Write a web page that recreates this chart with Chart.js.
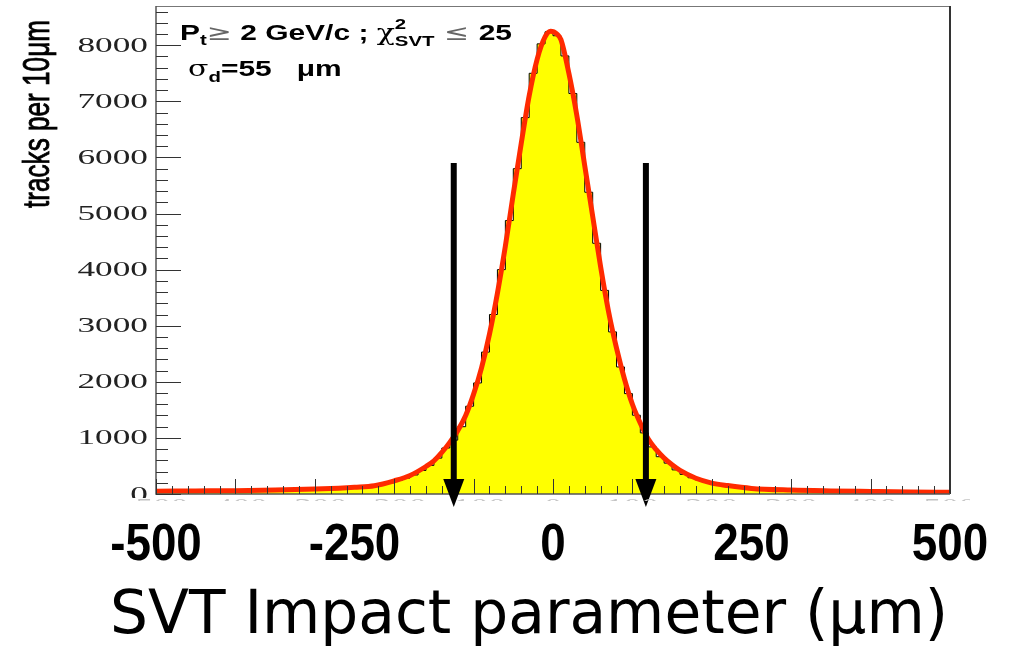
<!DOCTYPE html>
<html>
<head>
<meta charset="utf-8">
<title>SVT impact parameter</title>
<script src="https://cdn.jsdelivr.net/npm/chart.js@4.4.1/dist/chart.umd.min.js"></script>
<style>
  html, body { margin: 0; padding: 0; background: #fff; }
  #wrap { position: relative; width: 1014px; height: 652px; }
</style>
</head>
<body>
<div id="wrap"><canvas id="chart"></canvas></div>
<script>
// tracks per 10 um bin, bins from -500 to +500 um (left edge order)
const binWidth = 10;
const xRange = [-500, 500];
const binCounts = [
  50, 51, 52, 53, 54, 55, 56, 57, 58, 59,
  60, 62, 64, 66, 68, 71, 74, 77, 80, 84,
  88, 92, 98, 105, 112, 120, 132, 148, 170, 200,
  240, 285, 340, 420, 510, 640, 820, 960, 1200, 1565,
  1980, 2530, 3200, 4000, 4875, 5800, 6710, 7500, 8025, 8240,
  8170, 7810, 7140, 6270, 5380, 4470, 3630, 2890, 2265, 1790,
  1405, 1090, 840, 665, 550, 430, 350, 290, 245, 210,
  180, 155, 135, 118, 98, 88, 82, 77, 73, 69,
  65, 62, 60, 58, 55, 53, 51, 49, 47, 45,
  43, 41, 39, 37, 35, 33, 32, 31, 30, 29
];

// fitted resolution curve (red)
const fitX = [-500, -450, -400, -350, -300, -270, -250, -225, -200, -180, -160, -150, -140, -130,
  -120, -110, -100, -90, -80, -70, -60, -50, -40, -30, -20, -10, -3, 5, 10, 20, 30, 40, 50,
  60, 70, 80, 90, 100, 110, 120, 130, 140, 150, 160, 180, 200, 220, 250, 300, 350, 400, 450, 500];
const fitY = [50, 55, 60, 71, 88, 104, 120, 148, 235, 330, 490, 590, 740, 920,
  1130, 1400, 1780, 2250, 2850, 3580, 4420, 5350, 6250, 7100, 7750, 8150, 8250, 8200, 8100, 7500, 6750, 5850, 4950,
  4050, 3250, 2600, 2050, 1600, 1260, 980, 790, 640, 520, 420, 280, 195, 150, 100, 70, 55, 45, 36, 30];

const yMax = 8700;
const yTicks = [0, 1000, 2000, 3000, 4000, 5000, 6000, 7000, 8000];
const xTicks = [-500, -400, -300, -200, -100, 0, 100, 200, 300, 400, 500];
const xBigLabels = [-500, -250, 0, 250, 500];
const cutArrows = [-125, 117];
const arrowTop = 5900;
const arrowTip = -230;

const histPoints = binCounts.map((c, i) => ({ x: xRange[0] + i * binWidth, y: c }));
histPoints.push({ x: xRange[1], y: binCounts[binCounts.length - 1] });
const fitPoints = fitX.map((x, i) => ({ x: x, y: fitY[i] }));

// text squeezed/stretched along x
function stretchText(ctx, text, x, y, sx, align) {
  ctx.save();
  ctx.translate(x, y);
  ctx.scale(sx, 1);
  ctx.textAlign = align;
  ctx.fillText(text, 0, 0);
  ctx.restore();
}

// runs: [text, font, dy, colour, keepX]
function runsWidth(ctx, runs) {
  let w = 0;
  runs.forEach(r => { ctx.font = r[1]; if (!r[4]) w += ctx.measureText(r[0]).width; });
  return w;
}
function drawRuns(ctx, x, y, runs, sx) {
  let cx = 0;
  ctx.save();
  ctx.translate(x, y);
  ctx.scale(sx, 1);
  ctx.textAlign = 'left';
  ctx.textBaseline = 'alphabetic';
  runs.forEach(r => {
    ctx.font = r[1];
    ctx.fillStyle = r[3] || '#000';
    ctx.fillText(r[0], cx, r[2]);
    if (!r[4]) cx += ctx.measureText(r[0]).width;
  });
  ctx.restore();
}

const rootAxes = {
  id: 'rootAxes',
  afterDatasetsDraw(chart) {
    const ctx = chart.ctx;
    const area = chart.chartArea;
    const xs = chart.scales.x, ys = chart.scales.y;
    ctx.save();

    // frame
    ctx.lineWidth = 1;
    ctx.strokeStyle = '#777';
    ctx.beginPath(); ctx.moveTo(area.left, area.top + 0.5); ctx.lineTo(area.right, area.top + 0.5); ctx.stroke();
    ctx.strokeStyle = '#333';
    ctx.lineWidth = 2;
    ctx.beginPath(); ctx.moveTo(area.right, area.top); ctx.lineTo(area.right, area.bottom); ctx.stroke();
    ctx.strokeStyle = '#555';
    ctx.lineWidth = 1.5;
    ctx.beginPath();
    ctx.moveTo(area.left, area.top); ctx.lineTo(area.left, area.bottom); ctx.lineTo(area.right, area.bottom);
    ctx.stroke();

    // y ticks, pointing inwards, 5 divisions per label
    ctx.strokeStyle = '#333';
    ctx.lineWidth = 1;
    ctx.beginPath();
    const yStep = yTicks[1] - yTicks[0];
    for (let v = 0; v <= yMax; v += yStep / 5) {
      const py = Math.round(ys.getPixelForValue(v)) + 0.5;
      const len = (v % yStep === 0) ? 25 : 12;
      ctx.moveTo(area.left, py); ctx.lineTo(area.left + len, py);
    }
    // x ticks
    const xStep = xTicks[1] - xTicks[0];
    for (let v = xRange[0]; v <= xRange[1]; v += xStep / 5) {
      const px = Math.round(xs.getPixelForValue(v)) + 0.5;
      const len = (v % xStep === 0) ? 15 : 8;
      ctx.moveTo(px, area.bottom); ctx.lineTo(px, area.bottom - len);
    }
    ctx.stroke();

    // cut arrows
    ctx.fillStyle = '#000';
    ctx.strokeStyle = '#000';
    cutArrows.forEach(v => {
      const px = xs.getPixelForValue(v);
      const top = ys.getPixelForValue(arrowTop);
      const tip = ys.getPixelForValue(arrowTip);
      ctx.lineWidth = 6;
      ctx.beginPath(); ctx.moveTo(px, top); ctx.lineTo(px, tip - 20); ctx.stroke();
      ctx.beginPath();
      ctx.moveTo(px - 10.5, tip - 28); ctx.lineTo(px + 10.5, tip - 28); ctx.lineTo(px, tip);
      ctx.closePath(); ctx.fill();
    });
    ctx.restore();
  },
  afterDraw(chart) {
    const ctx = chart.ctx;
    const area = chart.chartArea;
    const xs = chart.scales.x, ys = chart.scales.y;
    ctx.save();

    // y tick labels (bottom one is cut by the axis-label box)
    ctx.save();
    ctx.beginPath(); ctx.rect(0, 0, area.left, area.bottom + 4); ctx.clip();
    ctx.fillStyle = '#222';
    ctx.font = '21px "Liberation Serif"';
    ctx.textBaseline = 'middle';
    yTicks.forEach(v => stretchText(ctx, String(v), area.left - 8, ys.getPixelForValue(v) + 1, 1.68, 'right'));
    ctx.restore();

    // original small x labels, almost fully covered
    ctx.save();
    ctx.beginPath(); ctx.rect(area.left - 20, area.bottom + 4, area.right - area.left + 40, 3); ctx.clip();
    ctx.fillStyle = '#c4c4c4';
    ctx.font = '21px "Liberation Serif"';
    ctx.textBaseline = 'top';
    xTicks.forEach(v => stretchText(ctx, String(v), xs.getPixelForValue(v), area.bottom + 3, 1.68, 'center'));
    ctx.restore();

    // big x labels
    ctx.fillStyle = '#000';
    ctx.font = 'bold 52px "Liberation Sans"';
    ctx.textBaseline = 'alphabetic';
    xBigLabels.forEach(v => stretchText(ctx, String(v), xs.getPixelForValue(v), 560, 0.88, 'center'));

    // x title
    ctx.font = '60px "DejaVu Sans"';
    const title = 'SVT Impact parameter (\u03bcm)';
    const tw = ctx.measureText(title).width;
    stretchText(ctx, title, 529, 633, 838 / tw, 'center');

    // y title, rotated
    ctx.save();
    ctx.translate(39, 114);
    ctx.rotate(-Math.PI / 2);
    ctx.font = '22px "Liberation Sans"';
    const yt = 'tracks per 10\u03bcm';
    const yw = ctx.measureText(yt).width;
    ctx.scale(188 / yw, 1.72);
    ctx.textAlign = 'center';
    ctx.textBaseline = 'middle';
    ctx.lineWidth = 0.5;
    ctx.strokeStyle = '#000';
    ctx.fillText(yt, 0, 0);
    ctx.strokeText(yt, 0, 0);
    ctx.restore();

    // selection / resolution note
    const B = 'bold 22px "Liberation Sans"', b = 'bold 15px "Liberation Sans"', S = '22px "DejaVu Sans"';
    const line1 = [
      ['P', B, 0], ['t', b, 5], ['\u2265', S, 0, '#666'], [' 2 GeV/c ; ', B, 0],
      ['\u03c7', '22px "DejaVu Serif"', 0], ['2', b, -11, '#000', true], ['SVT', b, 6],
      [' \u2264 ', S, 0, '#666'], ['25', B, 0]
    ];
    const line2 = [
      ['\u03c3', '22px "DejaVu Serif"', 0], ['d', b, 6], ['=55', B, 0], ['   ', B, 0], ['\u03bcm', B, 0]
    ];
    const sx = 332 / runsWidth(ctx, line1);
    drawRuns(ctx, 180, 40, line1, sx);
    drawRuns(ctx, 188, 76, line2, sx);
    ctx.restore();
  }
};

new Chart(document.getElementById('chart'), {
  type: 'line',
  data: {
    datasets: [
      {
        label: 'fit',
        data: fitPoints,
        borderColor: '#ff2a00',
        borderWidth: 5,
        pointRadius: 0,
        fill: false,
        cubicInterpolationMode: 'monotone',
        order: 0
      },
      {
        label: 'tracks',
        data: histPoints,
        stepped: true,
        borderColor: '#000',
        borderWidth: 1,
        backgroundColor: '#ffff00',
        fill: 'origin',
        pointRadius: 0,
        order: 1
      }
    ]
  },
  options: {
    responsive: true,
    maintainAspectRatio: false,
    animation: false,
    events: [],
    layout: { padding: { left: 156, right: 64, top: 6, bottom: 158 } },
    scales: {
      x: { type: 'linear', min: xRange[0], max: xRange[1], display: false },
      y: { min: 0, max: yMax, display: false }
    },
    plugins: { legend: { display: false }, tooltip: { enabled: false } }
  },
  plugins: [rootAxes]
});
</script>
</body>
</html>
